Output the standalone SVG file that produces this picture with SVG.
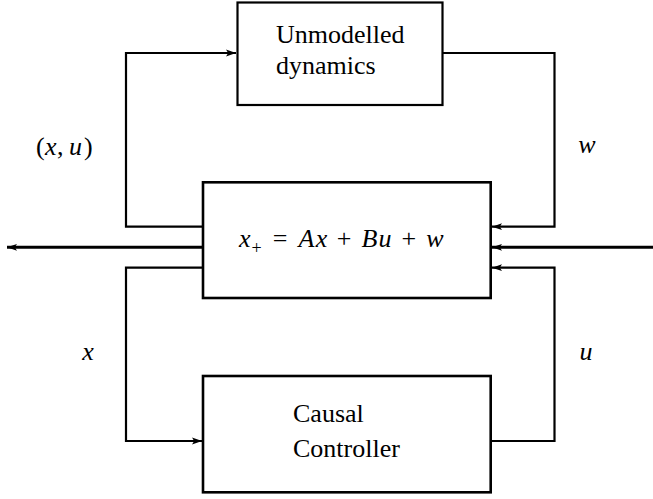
<svg xmlns="http://www.w3.org/2000/svg" width="653" height="499" viewBox="0 0 653 499">
<style>
.box{fill:#fff;stroke:#000;stroke-width:2.2}
.wire{fill:none;stroke:#000;stroke-width:2.2}
.thick{fill:none;stroke:#000;stroke-width:3}
</style>
<defs>
<marker id="ah" markerUnits="userSpaceOnUse" markerWidth="11" markerHeight="8" refX="10" refY="4" orient="auto">
<path d="M0,0.6 L10,4 L0,7.4 L2.2,4 z" fill="#000"/>
</marker>
</defs>
<rect width="653" height="499" fill="#fff"/>
<g id="connectors">
<path class="wire" d="M203,226.7 H126 V53 H236" marker-end="url(#ah)"/>
<path class="wire" d="M443,53 H554.5 V226.7 H492" marker-end="url(#ah)"/>
<path class="thick" d="M203,247.3 H7" marker-end="url(#ah)"/>
<path class="thick" d="M653,247.3 H492" marker-end="url(#ah)"/>
<path class="wire" d="M203,267.7 H126 V441 H202" marker-end="url(#ah)"/>
<path class="wire" d="M491,441 H554.5 V267.7 H492" marker-end="url(#ah)"/>
</g>
<g font-family="'Liberation Serif', 'DejaVu Serif', serif" font-size="26" fill="#000">
<g id="unmodelled">
<rect class="box" x="237.5" y="2.5" width="205" height="102.5"/>
<text x="276" y="43">Unmodelled</text>
<text x="276" y="74">dynamics</text>
</g>
<g id="plant" text-anchor="middle">
<rect class="box" x="203" y="182.3" width="287.7" height="115.7" style="stroke-width:2.6"/>
<text font-style="italic" x="244.8" y="247">x</text>
<text x="256.6" y="254" font-size="18">+</text>
<text x="280" y="247">=</text>
<text font-style="italic" x="306.4" y="247">A</text>
<text font-style="italic" x="321.5" y="247">x</text>
<text x="344.2" y="247">+</text>
<text font-style="italic" x="369.5" y="247">B</text>
<text font-style="italic" x="385" y="247">u</text>
<text x="408.8" y="247">+</text>
<text font-style="italic" x="434.8" y="247">w</text>
</g>
<g id="controller">
<rect class="box" x="203" y="376" width="287.7" height="116.3" style="stroke-width:2.6"/>
<text x="293" y="422">Causal</text>
<text x="293" y="457">Controller</text>
</g>
<g id="labels">
<text y="155"><tspan x="36">(</tspan><tspan x="45" font-style="italic">x</tspan><tspan x="57">,</tspan><tspan x="69" font-style="italic">u</tspan><tspan x="84">)</tspan></text>
<text font-style="italic" x="587" y="153" text-anchor="middle">w</text>
<text font-style="italic" x="88" y="360" text-anchor="middle">x</text>
<text font-style="italic" x="586" y="360" text-anchor="middle">u</text>
</g>
</g>
</svg>
